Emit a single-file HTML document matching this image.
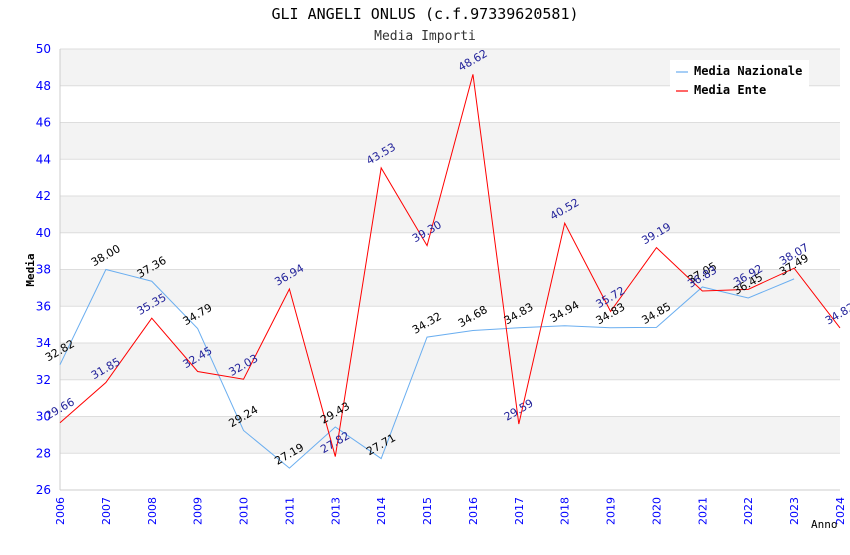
<!DOCTYPE html>
<html><head><meta charset="utf-8"><style>
body{margin:0;background:#fff}
svg text{font-family:"DejaVu Sans","Liberation Sans",sans-serif}
.mono{font-family:"DejaVu Sans Mono","Liberation Mono",monospace}
</style></head><body>
<svg id="c" width="850" height="550" xmlns="http://www.w3.org/2000/svg">
<text class="mono" x="425" y="19" text-anchor="middle" font-size="15" fill="#000">GLI ANGELI ONLUS (c.f.97339620581)</text>
<text class="mono" x="425" y="40" text-anchor="middle" font-size="13" fill="#333">Media Importi</text>
<g id="grid"></g><g id="axes"></g><g id="series"></g><g id="labels"></g>
<text class="mono" x="34" y="270" font-size="11" font-weight="bold" text-anchor="middle" transform="rotate(-90 34 270)">Media</text>
<text class="mono" x="811" y="528" font-size="11">Anno</text>
<g>
<rect x="670" y="60" width="139" height="40" fill="#fff"/>
<line x1="676" y1="72" x2="688" y2="72" stroke="#6aaef0" stroke-width="1.2"/>
<text class="mono" x="694" y="75" font-size="12" font-weight="bold">Media Nazionale</text>
<line x1="676" y1="91" x2="688" y2="91" stroke="#f00" stroke-width="1.2"/>
<text class="mono" x="694" y="94" font-size="12" font-weight="bold">Media Ente</text>
</g>
</svg>
<script>
const categories=["2006","2007","2008","2009","2010","2011","2013","2014","2015","2016","2017","2018","2019","2020","2021","2022","2023","2024"];
const nazionale=[32.82,38.00,37.36,34.79,29.24,27.19,29.43,27.71,34.32,34.68,34.83,34.94,34.83,34.85,37.05,36.45,37.49,null];
const ente=[29.66,31.85,35.35,32.45,32.03,36.94,27.82,43.53,39.30,48.62,29.59,40.52,35.72,39.19,36.83,36.92,38.07,34.82];
const yTicks=[26,28,30,32,34,36,38,40,42,44,46,48,50];
const L=60,R=840,T=49,B=490,ymin=26,ymax=50;
const xs=i=>L+i*(R-L)/(categories.length-1);
const ys=v=>B-(v-ymin)*(B-T)/(ymax-ymin);
const NS="http://www.w3.org/2000/svg";
function mk(tag,parent,attrs){const e=document.createElementNS(NS,tag);for(const k in attrs)e.setAttribute(k,attrs[k]);document.getElementById(parent).appendChild(e);return e;}
for(let i=0;i<yTicks.length-1;i++){
 const a=yTicks[i],b=yTicks[i+1];
 const r=mk('rect','grid',{x:L,y:ys(b),width:R-L,height:ys(a)-ys(b),fill:(i%2==1)?'#f3f3f3':'#fff'});
 
 
}
yTicks.forEach(v=>{
 const l=mk('line','grid',{x1:L,x2:R,y1:ys(v),y2:ys(v),stroke:'#ddd'});
 
 
 const t=mk('text','axes',{x:L-9,y:ys(v)+4,'text-anchor':'end','font-size':12,fill:'#00f'});
 t.textContent=v;
 
 
});
mk('line','axes',{x1:L,x2:L,y1:T,y2:B,stroke:'#ccc'});
mk('line','axes',{x1:L,x2:R,y1:B,y2:B,stroke:'#ccc'});
categories.forEach((c,i)=>{
 const x=xs(i)+4,y=497;
 const t=mk('text','axes',{x:x,y:y,'text-anchor':'end','font-size':11,fill:'#00f',transform:`rotate(-90 ${x} ${y})`});
 t.textContent=c;
 
 
});
function series(data,color,lblColor,name){
 let d='';data.forEach((v,i)=>{if(v==null)return;d+=(d?'L':'M')+xs(i)+' '+ys(v);});
 const p=mk('path','series',{d:d,fill:'none',stroke:color,'stroke-width':1});
 
 
 data.forEach((v,i)=>{if(v==null)return;
  const x=xs(i)-12,y=ys(v)-3;
  const t=mk('text','labels',{x:x,y:y,'font-size':11,fill:lblColor,transform:`rotate(-30 ${x} ${y})`});
  t.textContent=v.toFixed(2);
  
  
 });
}
series(nazionale,'#6aaef0','#000','nazionale');
series(ente,'#f00','#22229a','ente');
</script>
</body></html>
